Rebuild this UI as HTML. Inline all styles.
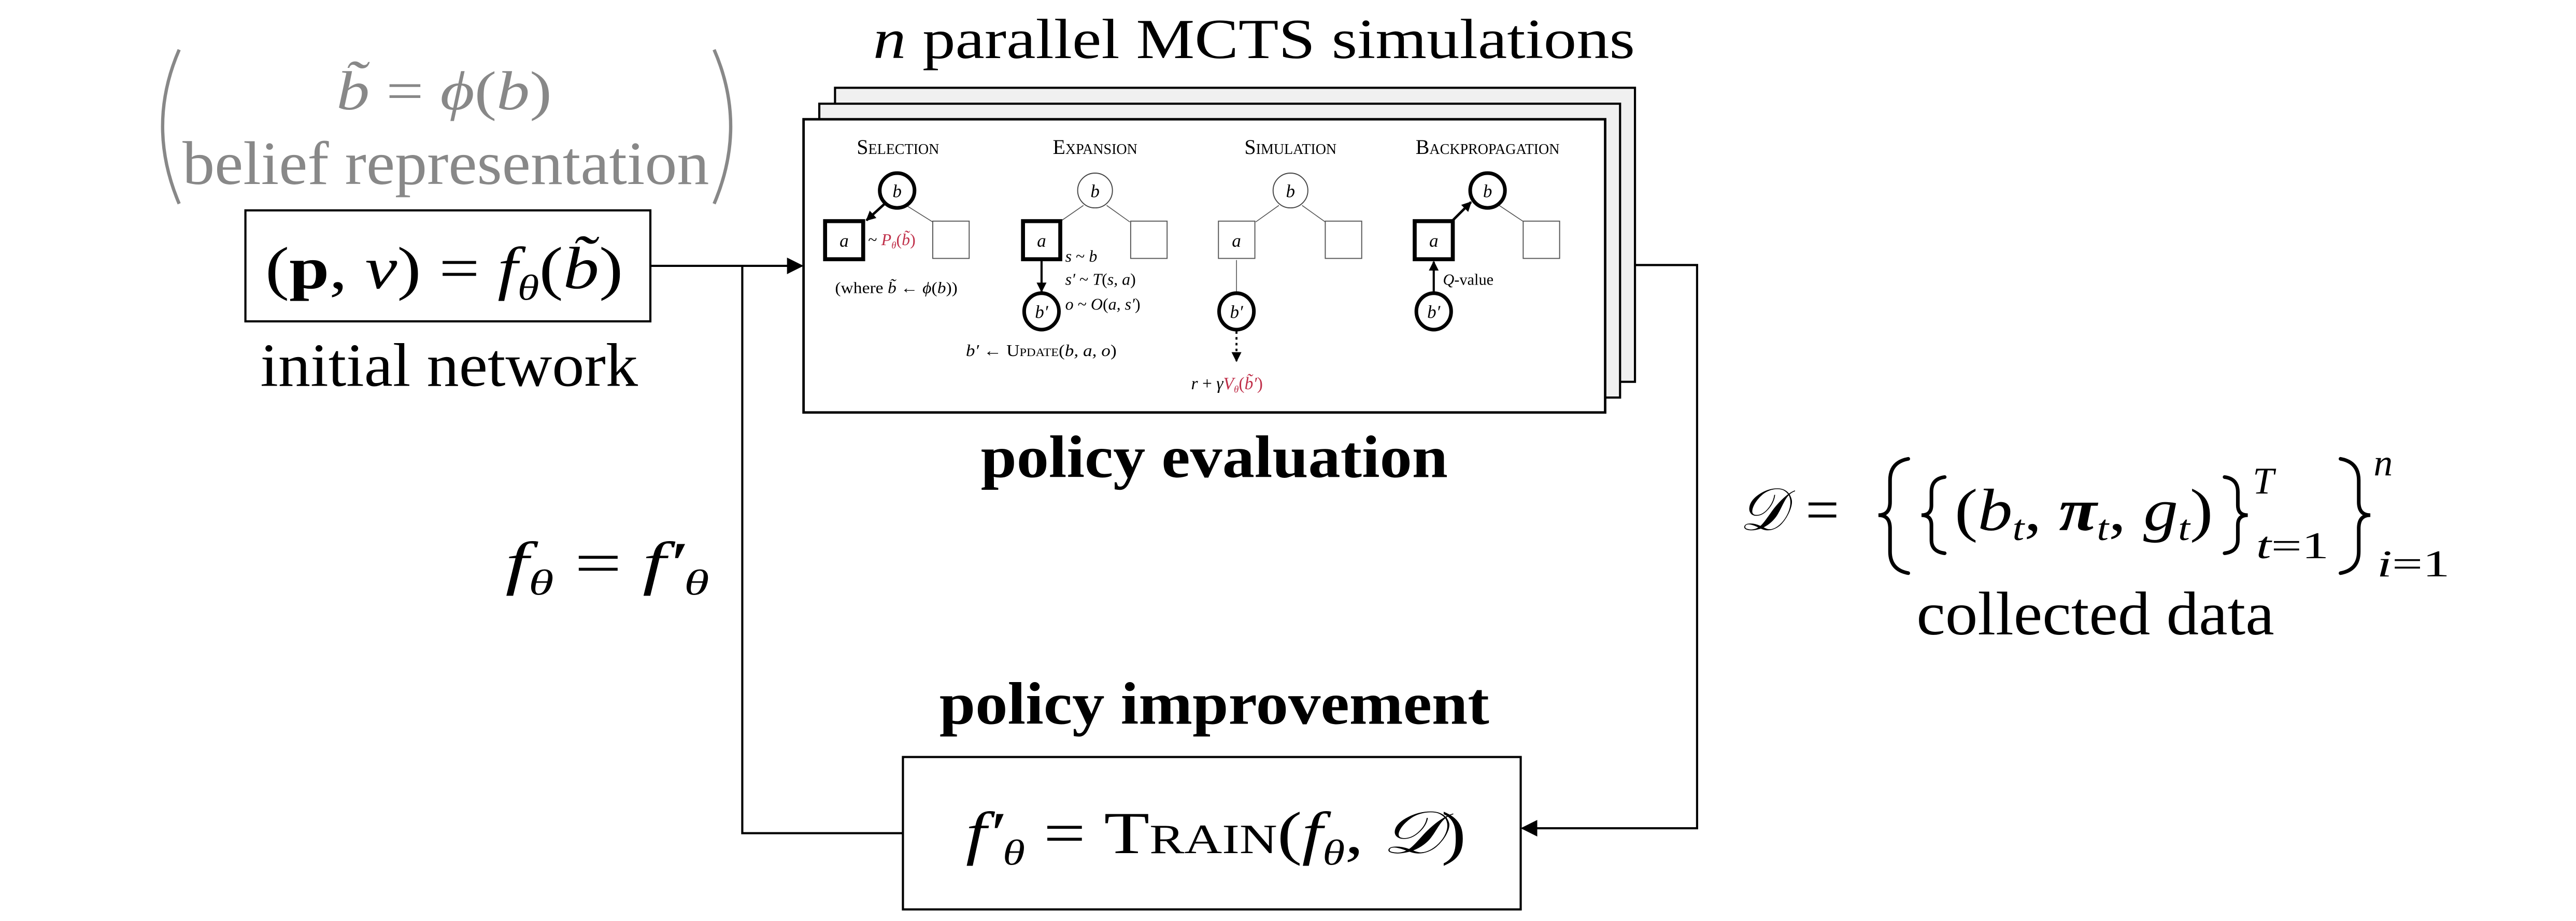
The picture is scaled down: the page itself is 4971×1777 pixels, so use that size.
<!DOCTYPE html>
<html><head><meta charset="utf-8"><style>
html,body{margin:0;padding:0;background:#fff;}
svg{display:block;}
text{font-family:"Liberation Serif",serif;}
.sc{font-variant:small-caps;}
</style></head><body>
<svg width="4971" height="1777" viewBox="0 0 1555 556" xmlns="http://www.w3.org/2000/svg">
<defs>
<marker id="ah" viewBox="0 0 10 10" refX="9" refY="5" markerWidth="10" markerHeight="10" markerUnits="userSpaceOnUse" orient="auto"><path d="M0,0 L10,5 L0,10 Z" fill="#000"/></marker>
<marker id="as" viewBox="0 0 10 10" refX="9" refY="5" markerWidth="6" markerHeight="6" markerUnits="userSpaceOnUse" orient="auto"><path d="M0,0 L10,5 L0,10 Z" fill="#000"/></marker>
</defs>
<rect width="1555" height="556" fill="#fff"/>

<!-- top label -->
<text x="527" y="35" font-size="34" textLength="460" lengthAdjust="spacingAndGlyphs"><tspan font-style="italic">n</tspan> parallel MCTS simulations</text>

<!-- stacked boxes -->
<rect x="504" y="53" width="483" height="177.5" fill="#f0f0f0" stroke="#000" stroke-width="1.3"/>
<rect x="494.5" y="62.6" width="483.5" height="177.4" fill="#f0f0f0" stroke="#000" stroke-width="1.3"/>
<rect x="485" y="72" width="484" height="177" fill="#fff" stroke="#000" stroke-width="1.5"/>

<!-- titles -->
<g font-size="12.5" text-anchor="middle">
<text x="542" y="93" class="sc">Selection</text>
<text x="661" y="93" class="sc">Expansion</text>
<text x="779" y="93" class="sc">Simulation</text>
<text x="898" y="93" class="sc">Backpropagation</text>
</g>

<!-- tree lines -->
<g stroke="#555" stroke-width="0.5" fill="none">
<line x1="547" y1="124" x2="563" y2="134"/>
<line x1="654" y1="124" x2="641" y2="133"/><line x1="668" y1="124" x2="682" y2="134"/>
<line x1="772" y1="124" x2="758" y2="134"/><line x1="786" y1="124" x2="800" y2="134"/>
<line x1="905" y1="124" x2="920" y2="134"/>
<line x1="746.4" y1="157" x2="746.4" y2="177"/>
</g>

<!-- selection -->
<circle cx="541.5" cy="115" r="10.5" fill="#fff" stroke="#000" stroke-width="2.2"/>
<text x="541.5" y="119" font-size="11" font-style="italic" text-anchor="middle">b</text>
<line x1="534" y1="123" x2="523" y2="133" stroke="#000" stroke-width="1.5" marker-end="url(#as)"/>
<rect x="498" y="133.5" width="23" height="23" fill="#fff" stroke="#000" stroke-width="2.4"/>
<text x="509.5" y="149" font-size="11" font-style="italic" text-anchor="middle">a</text>
<rect x="563" y="133.5" width="22" height="22.5" fill="#fff" stroke="#555" stroke-width="0.6"/>
<text x="524" y="148" font-size="10">~ <tspan fill="#c0304a" font-style="italic">P</tspan><tspan fill="#c0304a" font-size="6" font-style="italic" dy="2">θ</tspan><tspan fill="#c0304a" dy="-2">(<tspan font-style="italic">b̃</tspan>)</tspan></text>
<text x="504" y="177" font-size="9.5" textLength="74" lengthAdjust="spacingAndGlyphs">(where <tspan font-style="italic">b̃</tspan> ← <tspan font-style="italic">ϕ</tspan>(<tspan font-style="italic">b</tspan>))</text>

<!-- expansion -->
<circle cx="661" cy="115" r="10.5" fill="#fff" stroke="#444" stroke-width="0.6"/>
<text x="661" y="119" font-size="11" font-style="italic" text-anchor="middle">b</text>
<rect x="617.5" y="133.5" width="22.5" height="23" fill="#fff" stroke="#000" stroke-width="2.4"/>
<text x="628.7" y="149" font-size="11" font-style="italic" text-anchor="middle">a</text>
<rect x="682.5" y="133.5" width="22" height="22.5" fill="#fff" stroke="#555" stroke-width="0.6"/>
<line x1="628.7" y1="157" x2="628.7" y2="176" stroke="#000" stroke-width="1.3" marker-end="url(#as)"/>
<ellipse cx="628.7" cy="188" rx="10.5" ry="11" fill="#fff" stroke="#000" stroke-width="2.2"/>
<text x="628.7" y="192" font-size="11" font-style="italic" text-anchor="middle">b′</text>
<g font-size="10" font-style="italic">
<text x="643" y="158">s <tspan font-style="normal">~</tspan> b</text>
<text x="643" y="172">s′ <tspan font-style="normal">~</tspan> T<tspan font-style="normal">(</tspan>s, a<tspan font-style="normal">)</tspan></text>
<text x="643" y="187">o <tspan font-style="normal">~</tspan> O<tspan font-style="normal">(</tspan>a, s′<tspan font-style="normal">)</tspan></text>
</g>
<text x="583" y="215" font-size="10" textLength="91" lengthAdjust="spacingAndGlyphs"><tspan font-style="italic">b′</tspan> ← <tspan class="sc">Update</tspan>(<tspan font-style="italic">b, a, o</tspan>)</text>

<!-- simulation -->
<circle cx="779" cy="115" r="10.5" fill="#fff" stroke="#444" stroke-width="0.6"/>
<text x="779" y="119" font-size="11" font-style="italic" text-anchor="middle">b</text>
<rect x="735.5" y="133.5" width="22" height="22.5" fill="#fff" stroke="#555" stroke-width="0.6"/>
<text x="746.4" y="149" font-size="11" font-style="italic" text-anchor="middle">a</text>
<rect x="800" y="133.5" width="22" height="22.5" fill="#fff" stroke="#555" stroke-width="0.6"/>
<ellipse cx="746.4" cy="188" rx="10.5" ry="11" fill="#fff" stroke="#000" stroke-width="2.2"/>
<text x="746.4" y="192" font-size="11" font-style="italic" text-anchor="middle">b′</text>
<line x1="746.4" y1="200" x2="746.4" y2="218" stroke="#000" stroke-width="1.2" stroke-dasharray="1.5,2" marker-end="url(#as)"/>
<text x="719" y="235" font-size="10.5" font-style="italic">r <tspan font-style="normal">+</tspan> γ<tspan fill="#c0304a">V</tspan><tspan fill="#c0304a" font-size="6" dy="2">θ</tspan><tspan fill="#c0304a" dy="-2" font-style="normal">(<tspan font-style="italic">b̃′</tspan>)</tspan></text>

<!-- backprop -->
<circle cx="898" cy="115" r="10.5" fill="#fff" stroke="#000" stroke-width="2.2"/>
<text x="898" y="119" font-size="11" font-style="italic" text-anchor="middle">b</text>
<line x1="877" y1="133" x2="888" y2="122" stroke="#000" stroke-width="1.5" marker-end="url(#as)"/>
<rect x="854" y="133.5" width="23" height="23" fill="#fff" stroke="#000" stroke-width="2.4"/>
<text x="865.5" y="149" font-size="11" font-style="italic" text-anchor="middle">a</text>
<rect x="919.5" y="133.5" width="22" height="22.5" fill="#fff" stroke="#555" stroke-width="0.6"/>
<line x1="865.5" y1="177" x2="865.5" y2="158" stroke="#000" stroke-width="1.3" marker-end="url(#as)"/>
<ellipse cx="865.5" cy="188" rx="10.5" ry="11" fill="#fff" stroke="#000" stroke-width="2.2"/>
<text x="865.5" y="192" font-size="11" font-style="italic" text-anchor="middle">b′</text>
<text x="871" y="172" font-size="9.5"><tspan font-style="italic">Q</tspan>-value</text>

<!-- policy evaluation -->
<text x="592" y="288" font-size="36" font-weight="bold" textLength="282" lengthAdjust="spacingAndGlyphs">policy evaluation</text>

<!-- belief representation -->
<g fill="#888">
<text x="203" y="66" font-size="33" font-style="italic" textLength="130" lengthAdjust="spacingAndGlyphs">b̃ <tspan font-style="normal">=</tspan> ϕ<tspan font-style="normal">(</tspan>b<tspan font-style="normal">)</tspan></text>
<text x="110" y="111" font-size="37" textLength="318" lengthAdjust="spacingAndGlyphs">belief representation</text>
</g>
<path d="M108,30 Q88,76 108,123" fill="none" stroke="#888" stroke-width="2"/>
<path d="M431,30 Q451,76 431,123" fill="none" stroke="#888" stroke-width="2"/>

<!-- initial network box -->
<rect x="148" y="127" width="244.5" height="67" fill="#fff" stroke="#000" stroke-width="1.3"/>
<text x="160" y="174" font-size="36" textLength="216" lengthAdjust="spacingAndGlyphs">(<tspan font-weight="bold">p</tspan>, <tspan font-style="italic">v</tspan>) = <tspan font-style="italic">f</tspan><tspan font-style="italic" font-size="22" dy="7">θ</tspan><tspan dy="-7">(<tspan font-style="italic">b̃</tspan>)</tspan></text>
<text x="157" y="233" font-size="37" textLength="228" lengthAdjust="spacingAndGlyphs">initial network</text>

<!-- connectors -->
<g stroke="#000" stroke-width="1.3" fill="none">
<line x1="392.5" y1="160.5" x2="484" y2="160.5" marker-end="url(#ah)"/>
<polyline points="448,160.5 448,503 545,503"/>
<polyline points="987,160 1024.5,160 1024.5,500 919,500" marker-end="url(#ah)"/>
</g>

<!-- f theta = f' -->
<text x="305" y="352" font-size="36" font-style="italic" textLength="123" lengthAdjust="spacingAndGlyphs">f<tspan font-size="22" dy="7">θ</tspan><tspan dy="-7" font-style="normal"> = </tspan>f′<tspan font-size="22" dy="7">θ</tspan></text>

<!-- policy improvement -->
<text x="567" y="437" font-size="36" font-weight="bold" textLength="332" lengthAdjust="spacingAndGlyphs">policy improvement</text>
<rect x="545" y="457" width="373" height="92" fill="#fff" stroke="#000" stroke-width="1.3"/>
<text x="583" y="515" font-size="36" textLength="302" lengthAdjust="spacingAndGlyphs"><tspan font-style="italic">f′</tspan><tspan font-style="italic" font-size="22" dy="7">θ</tspan><tspan dy="-7"> = </tspan><tspan class="sc">Train</tspan>(<tspan font-style="italic">f</tspan><tspan font-style="italic" font-size="22" dy="7">θ</tspan><tspan dy="-7">, </tspan><tspan font-style="italic">𝒟</tspan>)</text>

<!-- D formula -->
<text x="1050" y="320" font-size="36" font-style="italic" textLength="28" lengthAdjust="spacingAndGlyphs">𝒟</text>
<text x="1090" y="320" font-size="36">=</text>
<g fill="none" stroke="#000" stroke-width="2.2" stroke-linecap="round">
<!-- big left brace -->
<path d="M1152,277 Q1141,279 1141,290 L1141,303 Q1141,311 1134,311 Q1141,311 1141,319 L1141,333 Q1141,344 1152,346"/>
<!-- inner left brace -->
<path d="M1174,288 Q1166,289 1166,297 L1166,305 Q1166,311 1160,311 Q1166,311 1166,317 L1166,326 Q1166,333 1174,334"/>
<!-- inner right brace -->
<path d="M1343,288 Q1351,289 1351,297 L1351,305 Q1351,311 1357,311 Q1351,311 1351,317 L1351,326 Q1351,333 1343,334"/>
<!-- big right brace -->
<path d="M1413,277 Q1424,279 1424,290 L1424,303 Q1424,311 1431,311 Q1424,311 1424,319 L1424,333 Q1424,344 1413,346"/>
</g>
<text x="1180" y="320" font-size="36" font-style="italic" textLength="156" lengthAdjust="spacingAndGlyphs"><tspan font-style="normal">(</tspan>b<tspan font-size="22" dy="6">t</tspan><tspan dy="-6" font-style="normal">, </tspan><tspan font-weight="bold">π</tspan><tspan font-size="22" dy="6">t</tspan><tspan dy="-6" font-style="normal">, </tspan>g<tspan font-size="22" dy="6">t</tspan><tspan dy="-6" font-style="normal">)</tspan></text>
<text x="1360" y="298" font-size="23" font-style="italic">T</text>
<text x="1362" y="337" font-size="23" textLength="44" lengthAdjust="spacingAndGlyphs"><tspan font-style="italic">t</tspan>=1</text>
<text x="1433" y="287" font-size="23" font-style="italic">n</text>
<text x="1435" y="348" font-size="23" textLength="44" lengthAdjust="spacingAndGlyphs"><tspan font-style="italic">i</tspan>=1</text>
<text x="1157" y="383" font-size="37" textLength="216" lengthAdjust="spacingAndGlyphs">collected data</text>
</svg>
</body></html>
